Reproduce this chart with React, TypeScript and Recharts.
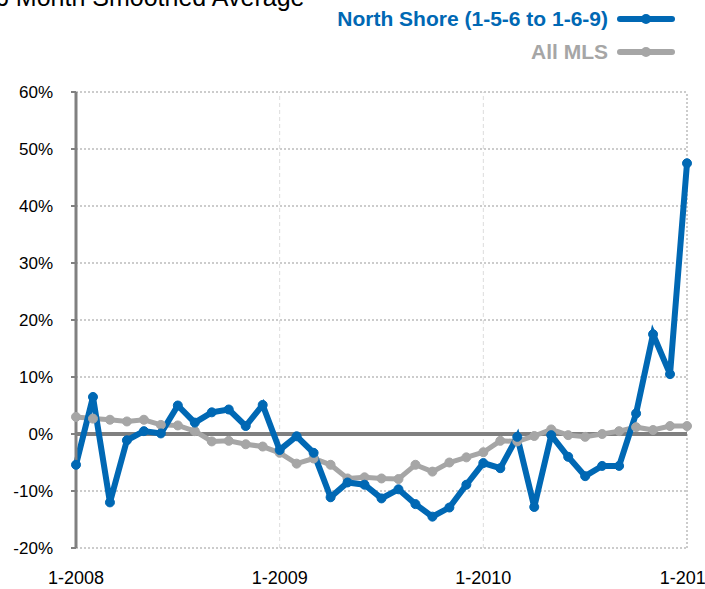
import React from 'react';
import {
  LineChart,
  Line,
  XAxis,
  YAxis,
  CartesianGrid,
  ReferenceLine
} from 'recharts';

// Month labels, Jan 2008 .. Jan 2011
const months = [
  '1-2008', '2-2008', '3-2008', '4-2008', '5-2008', '6-2008', '7-2008', '8-2008', '9-2008', '10-2008', '11-2008', '12-2008',
  '1-2009', '2-2009', '3-2009', '4-2009', '5-2009', '6-2009', '7-2009', '8-2009', '9-2009', '10-2009', '11-2009', '12-2009',
  '1-2010', '2-2010', '3-2010', '4-2010', '5-2010', '6-2010', '7-2010', '8-2010', '9-2010', '10-2010', '11-2010', '12-2010',
  '1-2011'
];

// North Shore (1-5-6 to 1-6-9), percent
const northShore = [
  -5.4, 6.5, -12.0, -1.1, 0.5, 0.1, 5.0, 2.0, 3.8, 4.3, 1.4, 5.1,
  -2.8, -0.4, -3.3, -11.1, -8.5, -8.9, -11.3, -9.7, -12.3, -14.5, -12.9, -8.9,
  -5.1, -6.0, -0.5, -12.8, -0.2, -4.0, -7.4, -5.6, -5.6, 3.6, 17.5, 10.5,
  47.5
];

// All MLS, percent
const allMls = [
  3.0, 2.7, 2.5, 2.2, 2.5, 1.6, 1.5, 0.5, -1.3, -1.2, -1.8, -2.2,
  -3.3, -5.2, -4.3, -5.4, -7.8, -7.6, -7.8, -7.9, -5.4, -6.6, -5.0, -4.1,
  -3.2, -1.2, -1.3, -0.35, 0.8, -0.2, -0.5, 0.0, 0.5, 1.2, 0.7, 1.4,
  1.4
];

const yTicks = [-20, -10, 0, 10, 20, 30, 40, 50, 60];

const BLUE = '#0068B4';
const GRAY = '#A6A6A6';

const data = months.map((m, i) => ({
  month: m,
  north: northShore[i],
  mls: allMls[i],
}));

const font = '"Liberation Sans", Arial, sans-serif';

const LegendRow = ({ label, color, top }: { label: string; color: string; top: number }) => (
  <div style={{ position: 'absolute', top, right: 30, height: 24, display: 'flex', alignItems: 'center' }}>
    <span style={{ color, fontWeight: 'bold', fontSize: 21, lineHeight: '24px', fontFamily: font, marginRight: 9 }}>{label}</span>
    <svg width={58} height={12}>
      <line x1={3} y1={6} x2={55} y2={6} stroke={color} strokeWidth={6} strokeLinecap="round" />
      <circle cx={29} cy={6} r={5} fill={color} />
    </svg>
  </div>
);

export default function App() {
  return (
    <div style={{ position: 'absolute', left: 0, top: 0, width: 705, height: 589, background: '#fff', overflow: 'hidden', fontFamily: font }}>
      {/* title, cut off at the top edge */}
      <div style={{ position: 'absolute', left: -5, top: -15, fontSize: 25, lineHeight: '25px', color: '#000', whiteSpace: 'nowrap' }}>
        6 Month Smoothed Average
      </div>
      <LegendRow label="North Shore (1-5-6 to 1-6-9)" color={BLUE} top={7} />
      <LegendRow label="All MLS" color={GRAY} top={40} />

      <LineChart
        width={705}
        height={589}
        data={data}
        margin={{ top: 92, right: 18, bottom: 0, left: 0 }}
      >
        <CartesianGrid horizontal={true} vertical={false} stroke="#999" strokeDasharray="2 2" />
        <ReferenceLine x="1-2009" stroke="#ddd" strokeDasharray="4 3" />
        <ReferenceLine x="1-2010" stroke="#ddd" strokeDasharray="4 3" />
        <ReferenceLine x="1-2011" stroke="#999" strokeDasharray="2 2" />
        <XAxis
          dataKey="month"
          interval={11}
          axisLine={false}
          tickLine={false}
          height={41}
          tickMargin={17}
          tick={{ fill: '#000', fontSize: 18, fontFamily: font }}
        />
        <YAxis
          type="number"
          domain={[-20, 60]}
          ticks={yTicks}
          width={76}
          tickFormatter={(v: number) => `${v}%`}
          axisLine={{ stroke: '#808080', strokeWidth: 3 }}
          tickLine={{ stroke: '#808080', strokeWidth: 2 }}
          tickSize={5}
          tickMargin={18}
          tick={{ fill: '#000', fontSize: 17, fontFamily: font }}
        />
        <ReferenceLine y={0} stroke="#808080" strokeWidth={4} />
        <Line
          type="linear"
          dataKey="mls"
          stroke={GRAY}
          strokeWidth={5}
          dot={{ r: 4.5, fill: GRAY, stroke: GRAY, strokeWidth: 1 }}
          isAnimationActive={false}
        />
        <Line
          type="linear"
          dataKey="north"
          stroke={BLUE}
          strokeWidth={6}
          dot={{ r: 4.5, fill: BLUE, stroke: BLUE, strokeWidth: 1 }}
          isAnimationActive={false}
        />
      </LineChart>
    </div>
  );
}
